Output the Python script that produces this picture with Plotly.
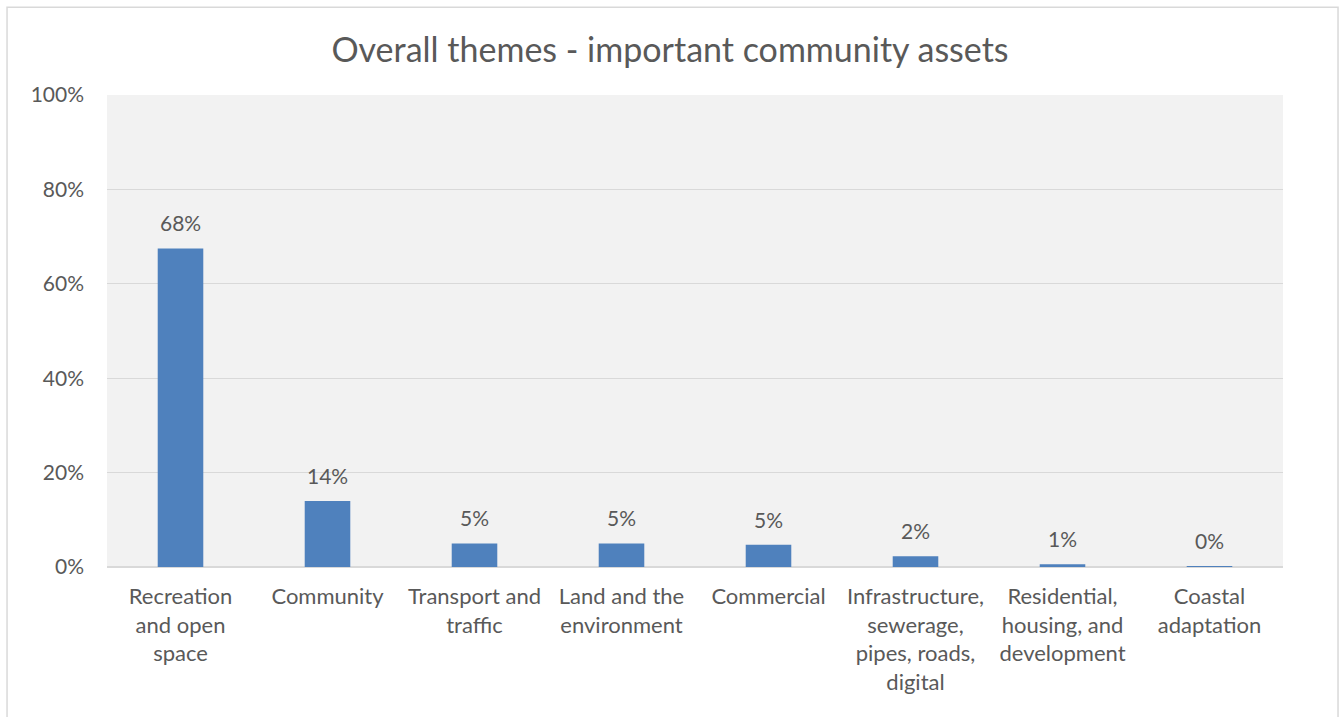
import plotly.graph_objects as go

# Themes and their share of responses
categories = [
    "Recreation<br>and open<br>space",
    "Community",
    "Transport and<br>traffic",
    "Land and the<br>environment",
    "Commercial",
    "Infrastructure,<br>sewerage,<br>pipes, roads,<br>digital",
    "Residential,<br>housing, and<br>development",
    "Coastal<br>adaptation",
]
shares = [0.675, 0.140, 0.050, 0.050, 0.047, 0.023, 0.006, 0.002]
y_ticks = [0, 0.2, 0.4, 0.6, 0.8, 1.0]
y_tick_labels = ["0%", "20%", "40%", "60%", "80%", "100%"]

TEXT = "#595959"
GRID = "#d9d9d9"
FONT = "Lato"

fig = go.Figure(
    go.Bar(
        x=categories,
        y=shares,
        marker=dict(color="#4f81bd", line=dict(width=0)),
        width=0.31,
        hoverinfo="skip",
    )
)

# value labels above each bar
for cat, val in zip(categories, shares):
    fig.add_annotation(
        x=cat, y=val, text=f"{val:.0%}", showarrow=False,
        yanchor="bottom", yshift=11,
        font=dict(family=FONT, size=21, color=TEXT),
    )

# chart frame
fig.add_shape(
    type="rect", xref="paper", yref="paper",
    x0=-0.0850, x1=1.0468, y0=-0.40, y1=1.186,
    line=dict(color=GRID, width=1.5), fillcolor="rgba(0,0,0,0)", layer="below",
)

fig.update_layout(
    width=1340,
    height=717,
    margin=dict(l=107, r=57, t=95, b=150),
    paper_bgcolor="white",
    plot_bgcolor="#f2f2f2",
    showlegend=False,
    title=dict(
        text="Overall themes - important community assets",
        x=0.5, xref="container", xanchor="center",
        y=1 - 50 / 717, yref="container", yanchor="middle",
        font=dict(family=FONT, size=34, color=TEXT),
    ),
    font=dict(family=FONT, color=TEXT),
    xaxis=dict(
        showgrid=False,
        showline=False,
        ticks="",
        tickfont=dict(family=FONT, size=22, color=TEXT),
        ticklabelstandoff=14,
        fixedrange=True,
    ),
    yaxis=dict(
        range=[0, 1.0],
        tickvals=y_ticks,
        ticktext=y_tick_labels,
        showgrid=True,
        gridcolor=GRID,
        gridwidth=1.3,
        zeroline=True,
        zerolinecolor=GRID,
        zerolinewidth=2,
        showline=False,
        ticks="",
        tickfont=dict(family=FONT, size=21, color=TEXT),
        ticklabelstandoff=22,
        fixedrange=True,
    ),
)

fig.write_html("out.html")
